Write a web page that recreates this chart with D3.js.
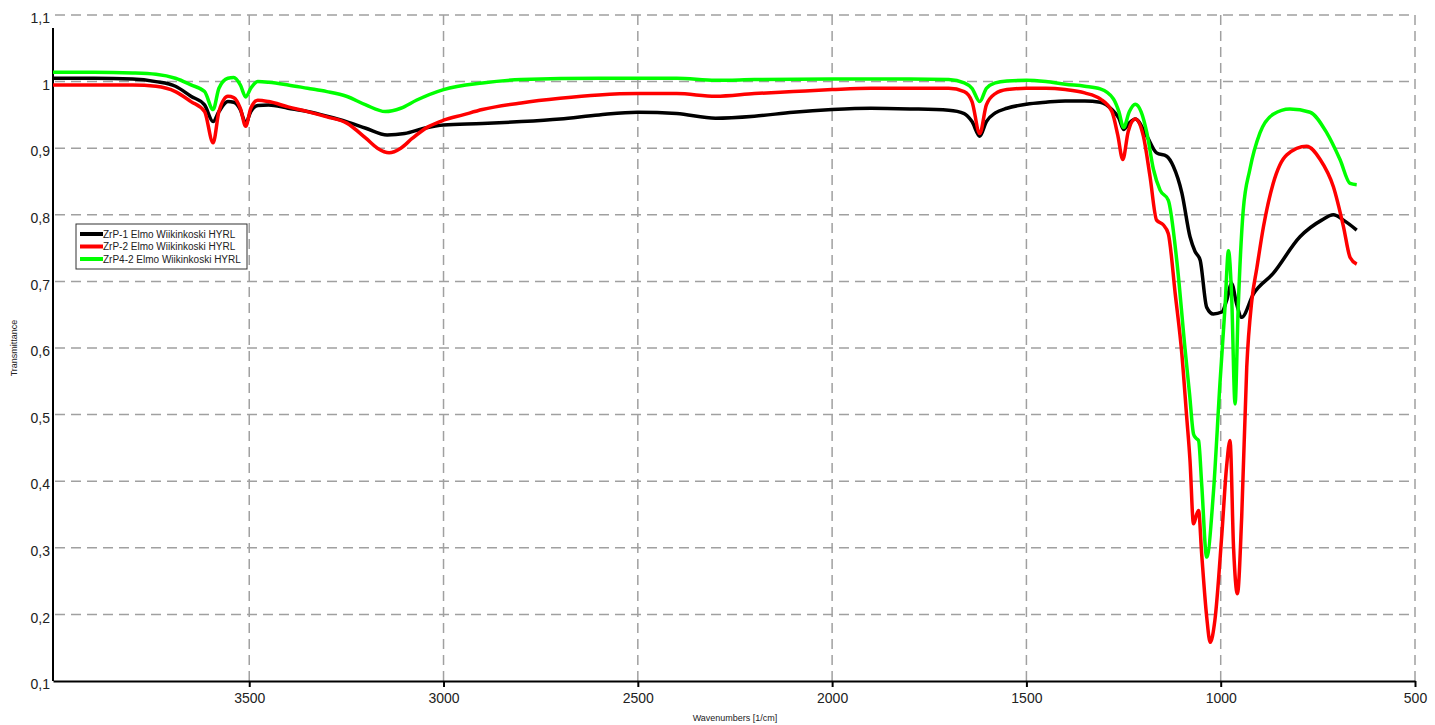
<!DOCTYPE html>
<html>
<head>
<meta charset="utf-8">
<script src="https://cdn.jsdelivr.net/npm/d3@7"></script>
<style>
    body { margin: 0; background: #fff; }
    .chart text { font-family: "Liberation Sans", Arial, sans-serif; fill: #222; }
</style>
</head>
<body>
<div class="chart"></div>
<script>

// ZrP-1 [wavenumber, transmittance]
const zrp1 = [
    [4005,1.005],[3900,1.005],[3800,1.004],[3740,1.0],[3690,0.993],[3650,0.978],[3615,0.965],
    [3593,0.94],[3578,0.955],[3555,0.97],[3540,0.969],[3523,0.958],[3509,0.938],[3496,0.955],
    [3478,0.964],[3450,0.965],[3400,0.96],[3350,0.955],[3300,0.948],[3250,0.94],[3200,0.93],
    [3145,0.92],[3100,0.922],[3050,0.93],[3000,0.935],[2900,0.937],[2800,0.94],[2700,0.944],
    [2600,0.95],[2500,0.954],[2400,0.952],[2300,0.945],[2200,0.948],[2100,0.954],[2000,0.958],
    [1900,0.96],[1800,0.959],[1700,0.957],[1660,0.952],[1640,0.94],[1620,0.918],[1603,0.94],
    [1580,0.953],[1550,0.96],[1500,0.966],[1450,0.969],[1400,0.971],[1350,0.971],[1310,0.969],
    [1280,0.958],[1262,0.945],[1250,0.928],[1235,0.938],[1220,0.944],[1190,0.918],[1165,0.893],
    [1139,0.888],[1122,0.873],[1100,0.833],[1079,0.767],[1066,0.745],[1053,0.732],[1036,0.661],
    [1019,0.651],[997,0.654],[985,0.671],[972,0.697],[959,0.666],[946,0.646],[916,0.681],
    [865,0.712],[796,0.767],[740,0.792],[710,0.80],[684,0.792],[650,0.777]
];

// ZrP-2
const zrp2 = [
    [4005,0.995],[3900,0.995],[3800,0.995],[3740,0.993],[3690,0.985],[3650,0.97],[3615,0.955],
    [3593,0.908],[3578,0.955],[3555,0.978],[3540,0.976],[3523,0.96],[3509,0.933],[3496,0.96],
    [3478,0.972],[3450,0.97],[3400,0.962],[3350,0.955],[3300,0.947],[3250,0.938],[3200,0.915],
    [3170,0.9],[3140,0.893],[3110,0.9],[3080,0.915],[3040,0.932],[3000,0.942],[2950,0.95],
    [2900,0.958],[2800,0.968],[2700,0.975],[2600,0.98],[2500,0.982],[2400,0.982],[2300,0.978],
    [2200,0.982],[2100,0.985],[2000,0.988],[1900,0.99],[1800,0.99],[1700,0.99],[1660,0.985],
    [1640,0.97],[1620,0.922],[1603,0.965],[1580,0.982],[1550,0.988],[1500,0.99],[1450,0.99],
    [1400,0.988],[1350,0.983],[1310,0.974],[1280,0.955],[1265,0.92],[1252,0.883],[1238,0.925],
    [1220,0.944],[1199,0.918],[1182,0.858],[1165,0.792],[1148,0.785],[1135,0.772],[1117,0.681],
    [1100,0.591],[1088,0.5],[1079,0.431],[1070,0.336],[1062,0.35],[1057,0.356],[1049,0.291],
    [1036,0.196],[1027,0.158],[1015,0.191],[997,0.321],[985,0.421],[976,0.461],[967,0.301],
    [957,0.231],[946,0.346],[933,0.571],[920,0.671],[907,0.72],[890,0.782],[865,0.847],
    [830,0.89],[779,0.903],[744,0.883],[710,0.842],[684,0.782],[667,0.736],[650,0.726]
];

// ZrP4-2
const zrp42 = [
    [4005,1.014],[3900,1.014],[3800,1.013],[3740,1.011],[3690,1.005],[3650,0.995],[3615,0.985],
    [3593,0.958],[3578,0.99],[3555,1.005],[3540,1.006],[3523,0.995],[3509,0.977],[3496,0.99],
    [3478,1.0],[3450,0.999],[3400,0.995],[3350,0.99],[3300,0.985],[3250,0.978],[3200,0.965],
    [3150,0.955],[3110,0.96],[3070,0.972],[3000,0.988],[2900,0.998],[2800,1.003],[2600,1.005],
    [2500,1.005],[2400,1.005],[2300,1.002],[2200,1.003],[2000,1.004],[1800,1.004],[1700,1.003],
    [1660,0.998],[1640,0.99],[1620,0.97],[1603,0.99],[1580,0.998],[1550,1.001],[1500,1.002],
    [1450,1.0],[1400,0.996],[1350,0.993],[1310,0.989],[1276,0.974],[1262,0.955],[1250,0.931],
    [1235,0.955],[1220,0.966],[1205,0.955],[1190,0.923],[1173,0.868],[1156,0.837],[1135,0.822],
    [1113,0.731],[1092,0.6],[1080,0.53],[1070,0.471],[1064,0.465],[1057,0.461],[1049,0.396],
    [1036,0.286],[1019,0.381],[1002,0.546],[989,0.661],[980,0.746],[972,0.68],[963,0.516],
    [955,0.66],[942,0.807],[925,0.868],[899,0.923],[865,0.951],[822,0.959],[770,0.954],
    [727,0.923],[693,0.883],[667,0.847],[650,0.845]
];

const seriesNames = [
    "ZrP-1 Elmo Wiikinkoski HYRL",
    "ZrP-2 Elmo Wiikinkoski HYRL",
    "ZrP4-2 Elmo Wiikinkoski HYRL"
];
const seriesColors = ["#000000", "#ff0000", "#00ff00"];
const seriesData = [zrp1, zrp2, zrp42];

const xTicks = [3500, 3000, 2500, 2000, 1500, 1000, 500];
const yTicks = [0.1, 0.2, 0.3, 0.4, 0.5, 0.6, 0.7, 0.8, 0.9, 1.0, 1.1];

const W = 1435;
const H = 725;

const plot = { left: 53, right: 1415, top: 15, bottom: 681 };

const svg = d3.select(".chart")
    .append("svg")
    .attr("width", W)
    .attr("height", H);

const x = d3.scaleLinear()
    .domain([4005, 500])
    .range([plot.left, plot.right]);

const y = d3.scaleLinear()
    .domain([0.1, 1.1])
    .range([plot.bottom, plot.top]);

//Grid

svg.append("g")
    .selectAll("line")
    .data(yTicks.filter(d => d > 0.15))
    .enter()
    .append("line")
    .attr("x1", plot.left + 2)
    .attr("x2", plot.right)
    .attr("y1", d => y(d))
    .attr("y2", d => y(d))
    .attr("stroke", "#a0a0a0")
    .attr("stroke-width", 1.5)
    .attr("stroke-dasharray", "10,6");

svg.append("g")
    .selectAll("line")
    .data(xTicks)
    .enter()
    .append("line")
    .attr("x1", d => x(d))
    .attr("x2", d => x(d))
    .attr("y1", plot.top)
    .attr("y2", plot.bottom)
    .attr("stroke", "#a0a0a0")
    .attr("stroke-width", 1.5)
    .attr("stroke-dasharray", "10,6");

//Ejes

const xAxis = svg.append("g")
    .attr("transform", `translate(0,${plot.bottom})`)
    .call(d3.axisBottom(x).tickValues(xTicks).tickSize(6).tickSizeOuter(0).tickFormat(d3.format("d")));

xAxis.select(".domain")
    .attr("stroke", "#000")
    .attr("stroke-width", 2);

xAxis.selectAll(".tick line")
    .attr("stroke", "#000")
    .attr("stroke-width", 2);

xAxis.selectAll(".tick text")
    .attr("y", 12)
    .style("font-size", "14px");

const yAxis = svg.append("g")
    .attr("transform", `translate(${plot.left},0)`)
    .call(d3.axisLeft(y).tickValues(yTicks).tickSize(0).tickPadding(3)
        .tickFormat(d => d3.format(".1f")(d).replace(".0", "").replace(".", ",")));

yAxis.select(".domain").remove();

yAxis.selectAll(".tick text")
    .attr("dy", "0.55em")
    .style("font-size", "14px");

svg.append("line")
    .attr("x1", plot.left)
    .attr("x2", plot.left)
    .attr("y1", plot.top + 13)
    .attr("y2", plot.bottom)
    .attr("stroke", "#000")
    .attr("stroke-width", 2);

svg.append("text")
    .attr("x", 735)
    .attr("y", 721)
    .attr("text-anchor", "middle")
    .style("font-size", "9px")
    .text("Wavenumbers [1/cm]");

svg.append("text")
    .attr("transform", "translate(17,348) rotate(-90)")
    .attr("text-anchor", "middle")
    .style("font-size", "9px")
    .text("Transmittance");

//Lineas

const line = d3.line()
    .x(d => x(d[0]))
    .y(d => y(d[1]))
    .curve(d3.curveMonotoneX);

svg.append("g")
    .selectAll("path")
    .data(seriesData)
    .enter()
    .append("path")
    .attr("d", d => line(d))
    .attr("fill", "none")
    .attr("stroke", (d, i) => seriesColors[i])
    .attr("stroke-width", 3.5)
    .attr("stroke-linejoin", "round");

//Leyenda

const legend = svg.append("g")
    .attr("transform", "translate(76,224)");

legend.append("rect")
    .attr("width", 171)
    .attr("height", 45)
    .attr("fill", "#fff")
    .attr("stroke", "#333")
    .attr("stroke-width", 1);

const items = legend.selectAll(".item")
    .data(seriesNames)
    .enter()
    .append("g")
    .attr("transform", (d, i) => `translate(0,${10 + i * 12.5})`);

items.append("line")
    .attr("x1", 4)
    .attr("x2", 27)
    .attr("stroke", (d, i) => seriesColors[i])
    .attr("stroke-width", 4);

items.append("text")
    .attr("x", 27)
    .attr("y", 3.5)
    .style("font-size", "10px")
    .text(d => d);

</script>
</body>
</html>
